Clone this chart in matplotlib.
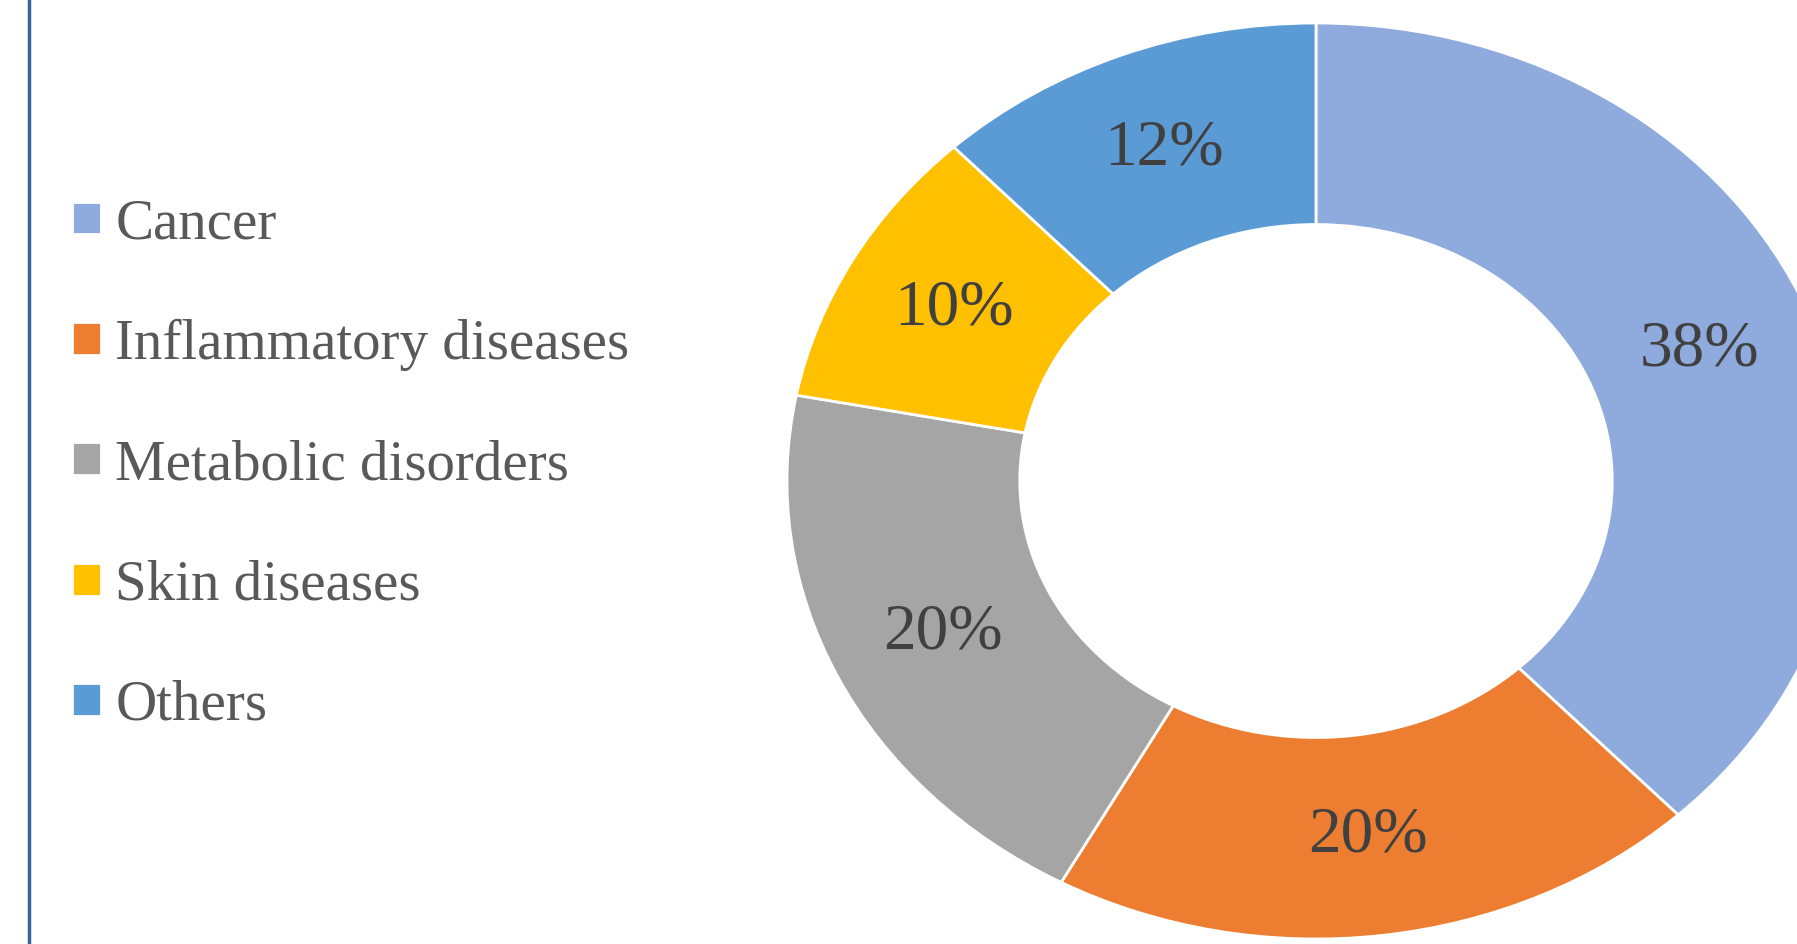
import matplotlib.pyplot as plt
from matplotlib.lines import Line2D

# data
categories = ["Cancer", "Inflammatory diseases", "Metabolic disorders", "Skin diseases", "Others"]
shares = [38, 20, 20, 10, 12]
colors = ["#8FAADC", "#ED7D31", "#A5A5A5", "#FFC000", "#5B9BD5"]

W, H = 1797, 944
fig = plt.figure(figsize=(W / 100, H / 100), dpi=100)
ax = fig.add_axes([0, 0, 1, 1])

wedges, texts, autotexts = ax.pie(
    shares, colors=colors, startangle=90, counterclock=False,
    radius=1.0, pctdistance=0.78, autopct="%d%%",
    wedgeprops=dict(width=0.44, edgecolor="white", linewidth=2),
    textprops=dict(family="Liberation Serif", fontsize=47, color="#404040"),
)

# the donut in the reference is stretched sideways, so drop equal aspect
cx, cy = 1316, 944 - 481   # centre in pixels
rx, ry = 529, 458          # radius in pixels
ax.set_aspect("auto")
ax.set_xlim(-cx / rx, (W - cx) / rx)
ax.set_ylim(-cy / ry, (H - cy) / ry)
ax.axis("off")

leg = ax.legend(
    wedges, categories, loc="center left",
    bbox_to_anchor=(72 / W, 1 - 465 / H), bbox_transform=fig.transFigure,
    frameon=False, borderpad=0, borderaxespad=0,
    handlelength=0.51, handleheight=0.51, handletextpad=0.25,
    labelspacing=1.2,
    prop=dict(family="Liberation Serif", size=41),
)
for t in leg.get_texts():
    t.set_color("#595959")

# left border line of the frame
fig.add_artist(Line2D([29 / W, 29 / W], [0, 1], transform=fig.transFigure,
                      color="#3B6496", linewidth=2.5))

fig.savefig("out.png", dpi=100)
